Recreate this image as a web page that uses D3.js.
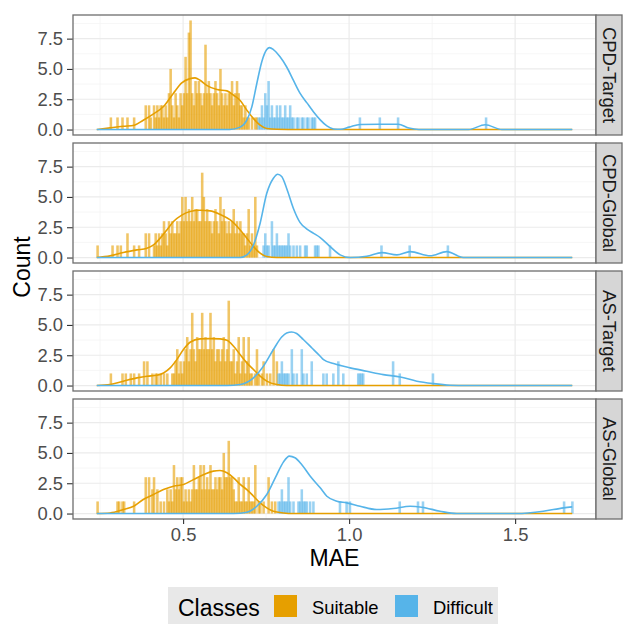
<!DOCTYPE html>
<html>
<head>
<meta charset="utf-8">
<script src="https://cdn.jsdelivr.net/npm/d3@7"></script>
<style>
  body { margin: 0; background: #fff; }
  svg { display: block; font-family: "Liberation Sans", Arial, sans-serif; }
</style>
</head>
<body>
<div id="chart"></div>
<script>
var width = 625, height = 624;

// facets, top to bottom
const facets = ["CPD-Target", "CPD-Global", "AS-Target", "AS-Global"];
const classes = ["Suitable", "Difficult"];
const classColors = ["#E69F00", "#56B4E9"];

// histogram: bins of 0.005 starting at 0.24, one digit = count of one bin
const binStart = 0.24, binWidth = 0.005;
const suitableCounts = [
  "0000000010" + "0010010010" + "0010000002" + "0210212122" + "1213521321" +
  "3236389324" + "3432373432" + "3432532323" + "3423432212" + "1101011",
  "1000000001" + "0010100020" + "0010010002" + "0200121212" + "3213232232" +
  "3535343534" + "4337534332" + "3432534323" + "2342323221" + "2412151",
  "0000000010" + "0000010100" + "1010010020" + "2001011010" + "1010011231" +
  "2123423632" + "4336343363" + "4233234237" + "2231241241" + "2411013101" + "201010302",
  "1000000000" + "0011011000" + "0010000003" + "0302302010" + "1021214232" +
  "3312121242" + "2342423242" + "2323325336" + "3321131131" + "1311140110" + "10030101"
];
// Difficult class: [MAE of first bin, counts]
const difficultCounts = [
  [[0.725, "1121324121" + "1212112112" + "1101101101" + "10111"],
   [1.030, "1"], [1.090, "1"], [1.145, "1"], [1.410, "1"]],
  [[0.740, "1211031121" + "1111121010" + "1010011000" + "01110000001"],
   [1.095, "1"], [1.180, "1"], [1.295, "1"]],
  [[0.785, "1121111031" + "0100310100" + "2000000101" + "0001002001" + "000000001111"],
   [1.130, "2"], [1.150, "1"], [1.250, "1"]],
  [[0.785, "1121113101" + "0011211101" + "0100000000" + "0000000100" + "0101"],
   [1.150, "1"], [1.205, "1"], [1.220, "1"], [1.645, "1"], [1.670, "1"]]
];

// density curves [MAE, density]
const suitableDensity = [
  [[0.24,0],[0.28,0.14],[0.32,0.27],[0.353,0.36],[0.38,0.77],[0.411,1.3],[0.441,1.9],[0.471,3.0],
   [0.496,3.85],[0.521,4.2],[0.536,4.26],[0.551,4.07],[0.571,3.65],[0.602,3.3],[0.632,3.19],[0.652,2.83],
   [0.672,2.4],[0.692,1.6],[0.712,0.9],[0.732,0.36],[0.752,0.08],[0.782,0.02],[0.85,0],[1.672,0]],
  [[0.24,0],[0.28,0.14],[0.32,0.41],[0.361,0.63],[0.391,0.77],[0.411,1.04],[0.431,1.6],[0.451,2.28],
   [0.471,2.97],[0.496,3.5],[0.521,3.8],[0.551,3.9],[0.581,3.85],[0.611,3.57],[0.642,3.1],[0.672,2.28],
   [0.692,1.6],[0.712,0.9],[0.732,0.36],[0.752,0.08],[0.782,0],[1.672,0]],
  [[0.24,0],[0.28,0.08],[0.32,0.36],[0.361,0.63],[0.391,0.77],[0.421,0.85],[0.441,1.04],[0.461,1.46],
   [0.481,2.14],[0.501,2.97],[0.521,3.57],[0.551,3.85],[0.581,3.87],[0.611,3.85],[0.632,3.74],[0.652,3.24],
   [0.672,2.55],[0.692,1.87],[0.712,1.32],[0.732,0.77],[0.752,0.36],[0.782,0.08],[0.812,0],[1.672,0]],
  [[0.24,0],[0.28,0.05],[0.32,0.33],[0.351,0.6],[0.38,1.16],[0.411,1.57],[0.441,1.98],[0.471,2.26],
   [0.501,2.4],[0.531,2.8],[0.561,3.2],[0.591,3.5],[0.611,3.55],[0.632,3.36],[0.652,2.95],[0.672,2.4],
   [0.692,1.98],[0.712,1.43],[0.732,0.88],[0.752,0.47],[0.772,0.19],[0.802,0.05],[0.832,0],[1.672,0]]
];
const difficultDensity = [
  [[0.24,0],[0.64,0],[0.672,0.2],[0.692,0.77],[0.707,1.87],[0.722,3.8],[0.737,5.6],[0.752,6.6],
   [0.760,6.76],[0.772,6.6],[0.792,6.0],[0.812,5.16],[0.832,4.07],[0.852,3.0],[0.873,2.2],[0.893,1.45],
   [0.913,0.8],[0.933,0.3],[0.953,0.05],[0.975,0.03],[1.0,0.2],[1.033,0.42],[1.09,0.44],[1.148,0.44],
   [1.18,0.12],[1.21,0],[1.36,0],[1.41,0.4],[1.46,0],[1.672,0]],
  [[0.24,0],[0.672,0],[0.692,0.22],[0.712,1.04],[0.732,2.83],[0.752,5.3],[0.772,6.54],[0.785,6.87],
   [0.797,6.68],[0.812,5.7],[0.832,4.07],[0.852,2.9],[0.873,2.35],[0.893,2.0],[0.913,1.65],[0.943,0.9],
   [0.973,0.22],[1.003,0],[1.053,0.1],[1.099,0.41],[1.144,0.22],[1.184,0.49],[1.244,0.15],[1.294,0.49],
   [1.344,0],[1.672,0]],
  [[0.24,0],[0.632,0],[0.672,0.08],[0.712,0.63],[0.742,1.6],[0.772,2.97],[0.797,4.0],[0.812,4.34],
   [0.827,4.42],[0.842,4.29],[0.862,3.8],[0.888,3.1],[0.913,2.42],[0.923,2.14],[0.953,1.81],[1.003,1.46],
   [1.053,1.18],[1.103,0.9],[1.154,0.71],[1.204,0.36],[1.254,0.16],[1.304,0.03],[1.354,0],[1.672,0]],
  [[0.24,0],[0.652,0],[0.692,0.1],[0.722,0.6],[0.752,1.57],[0.782,3.2],[0.802,4.24],[0.820,4.74],
   [0.837,4.6],[0.857,4.05],[0.883,3.08],[0.913,2.12],[0.933,1.43],[0.963,1.02],[0.993,0.88],[1.033,0.6],
   [1.083,0.33],[1.133,0.41],[1.184,0.6],[1.219,0.52],[1.274,0.19],[1.324,0],[1.505,0],[1.585,0.19],
   [1.646,0.47],[1.672,0.55]]
];

const xTicks = [0.5, 1.0, 1.5], xMinor = [0.25, 0.75, 1.25];
const yTicks = [0, 2.5, 5, 7.5], yMinor = [1.25, 3.75, 6.25, 8.75];

// turn a digit string into bins
function toBins(x0, digits) {
  return digits.split("").map((c, i) => ({ x0: x0 + i * binWidth, n: +c })).filter(d => d.n > 0);
}

var panelLeft = 73, panelRight = 596, stripW = 26;

var svg = d3.select("#chart").append("svg")
    .attr("width", width)
    .attr("height", height);

var allPts = suitableDensity.flat().concat(difficultDensity.flat());
var xExt = d3.extent(allPts, d => d[0]);
var xPad = (xExt[1] - xExt[0]) * 0.05;
var x = d3.scaleLinear()
    .domain([xExt[0] - xPad, xExt[1] + xPad])
    .range([panelLeft, panelRight]);

var maxCount = d3.max(suitableCounts.concat(difficultCounts.flat().map(d => d[1])), s => d3.max(s.split(""), Number));
var row = d3.scaleBand().domain(facets).range([15, 519]).paddingInner(0.0625);
var bandH = row.bandwidth();

var line = d3.line().curve(d3.curveMonotoneX);

facets.forEach(function(facet, fi) {
  var top = row(facet);
  var y = d3.scaleLinear()
      .domain([-maxCount * 0.05, maxCount * 1.05])
      .range([top + bandH, top]);

  var g = svg.append("g");
  var clipId = "clip" + fi;
  g.append("clipPath").attr("id", clipId)
    .append("rect").attr("x", panelLeft).attr("y", top)
    .attr("width", panelRight - panelLeft).attr("height", bandH);

  // grid
  g.selectAll(".xminor").data(xMinor).enter().append("line")
    .attr("x1", d => x(d)).attr("x2", d => x(d)).attr("y1", top).attr("y2", top + bandH)
    .attr("stroke", "#F2F2F2").attr("stroke-width", 0.7);
  g.selectAll(".yminor").data(yMinor).enter().append("line")
    .attr("x1", panelLeft).attr("x2", panelRight).attr("y1", d => y(d)).attr("y2", d => y(d))
    .attr("stroke", "#F2F2F2").attr("stroke-width", 0.7);
  g.selectAll(".xmajor").data(xTicks).enter().append("line")
    .attr("x1", d => x(d)).attr("x2", d => x(d)).attr("y1", top).attr("y2", top + bandH)
    .attr("stroke", "#EBEBEB").attr("stroke-width", 1.2);
  g.selectAll(".ymajor").data(yTicks).enter().append("line")
    .attr("x1", panelLeft).attr("x2", panelRight).attr("y1", d => y(d)).attr("y2", d => y(d))
    .attr("stroke", "#EBEBEB").attr("stroke-width", 1.2);

  var plot = g.append("g").attr("clip-path", "url(#" + clipId + ")");

  // histogram bars (slightly wider than a bin so neighbours overlap)
  var binPx = x(binStart + binWidth) - x(binStart);
  var seriesBins = [
    toBins(binStart, suitableCounts[fi]),
    difficultCounts[fi].flatMap(s => toBins(s[0], s[1]))
  ];
  seriesBins.forEach(function(bins, ci) {
    plot.append("g").selectAll("rect").data(bins).enter().append("rect")
      .attr("x", d => x(d.x0) - 0.45)
      .attr("width", binPx + 0.9)
      .attr("y", d => y(d.n))
      .attr("height", d => y(0) - y(d.n))
      .attr("fill", classColors[ci])
      .attr("fill-opacity", 0.6);
  });

  // density lines
  [suitableDensity[fi], difficultDensity[fi]].forEach(function(pts, ci) {
    plot.append("path")
      .attr("d", line(pts.map(d => [x(d[0]), y(d[1])])))
      .attr("fill", "none")
      .attr("stroke", classColors[ci])
      .attr("stroke-width", 1.6);
  });

  // y axis
  var yAxis = g.append("g")
    .attr("transform", "translate(" + panelLeft + ",0)")
    .call(d3.axisLeft(y).tickValues(yTicks).tickFormat(d3.format(".1f")).tickSize(6).tickPadding(4));
  yAxis.select(".domain").remove();
  yAxis.selectAll("line").attr("stroke", "#333").attr("stroke-width", 1.1);
  yAxis.selectAll("text").attr("fill", "#4D4D4D").style("font-size", "18.4px")
    .style("font-family", '"Liberation Sans", Arial, sans-serif');

  // panel border
  g.append("rect")
    .attr("x", panelLeft).attr("y", top)
    .attr("width", panelRight - panelLeft).attr("height", bandH)
    .attr("fill", "none").attr("stroke", "#6E6E6E").attr("stroke-width", 1.3);

  // strip
  g.append("rect")
    .attr("x", panelRight).attr("y", top)
    .attr("width", stripW).attr("height", bandH)
    .attr("fill", "#D6D6D6").attr("stroke", "#6E6E6E").attr("stroke-width", 1.3);
  g.append("text")
    .attr("transform", "translate(" + (panelRight + 7) + "," + (top + bandH / 2) + ") rotate(90)")
    .attr("text-anchor", "middle")
    .attr("fill", "#1A1A1A")
    .style("font-size", "18.4px")
    .text(facet);

  if (fi === facets.length - 1) {
    var xAxis = g.append("g")
      .attr("transform", "translate(0," + (top + bandH) + ")")
      .call(d3.axisBottom(x).tickValues(xTicks).tickFormat(d3.format(".1f")).tickSize(5).tickPadding(4));
    xAxis.select(".domain").remove();
    xAxis.selectAll("line").attr("stroke", "#333").attr("stroke-width", 1.1);
    xAxis.selectAll("text").attr("fill", "#4D4D4D").style("font-size", "18.4px")
      .style("font-family", '"Liberation Sans", Arial, sans-serif');
  }
});

// axis titles
svg.append("text")
  .attr("x", (panelLeft + panelRight) / 2).attr("y", 566)
  .attr("text-anchor", "middle").style("font-size", "23px").attr("fill", "#000")
  .text("MAE");
svg.append("text")
  .attr("transform", "translate(30," + (row("CPD-Global") + row("AS-Target") + bandH) / 2 + ") rotate(-90)")
  .attr("text-anchor", "middle").style("font-size", "23px").attr("fill", "#000")
  .text("Count");

// legend
var legend = svg.append("g");
legend.append("rect")
  .attr("x", 168).attr("y", 587).attr("width", 330).attr("height", 45)
  .attr("fill", "#E8E8E8");
legend.append("text")
  .attr("x", 178).attr("y", 616).style("font-size", "23px").attr("fill", "#000")
  .text("Classes");
var keyX = [274, 395];
classes.forEach(function(c, i) {
  legend.append("rect")
    .attr("x", keyX[i]).attr("y", 595).attr("width", 23).attr("height", 22)
    .attr("fill", classColors[i]);
  legend.append("text")
    .attr("x", keyX[i] + 38).attr("y", 614).style("font-size", "18.4px").attr("fill", "#000")
    .text(c);
});
</script>
</body>
</html>
